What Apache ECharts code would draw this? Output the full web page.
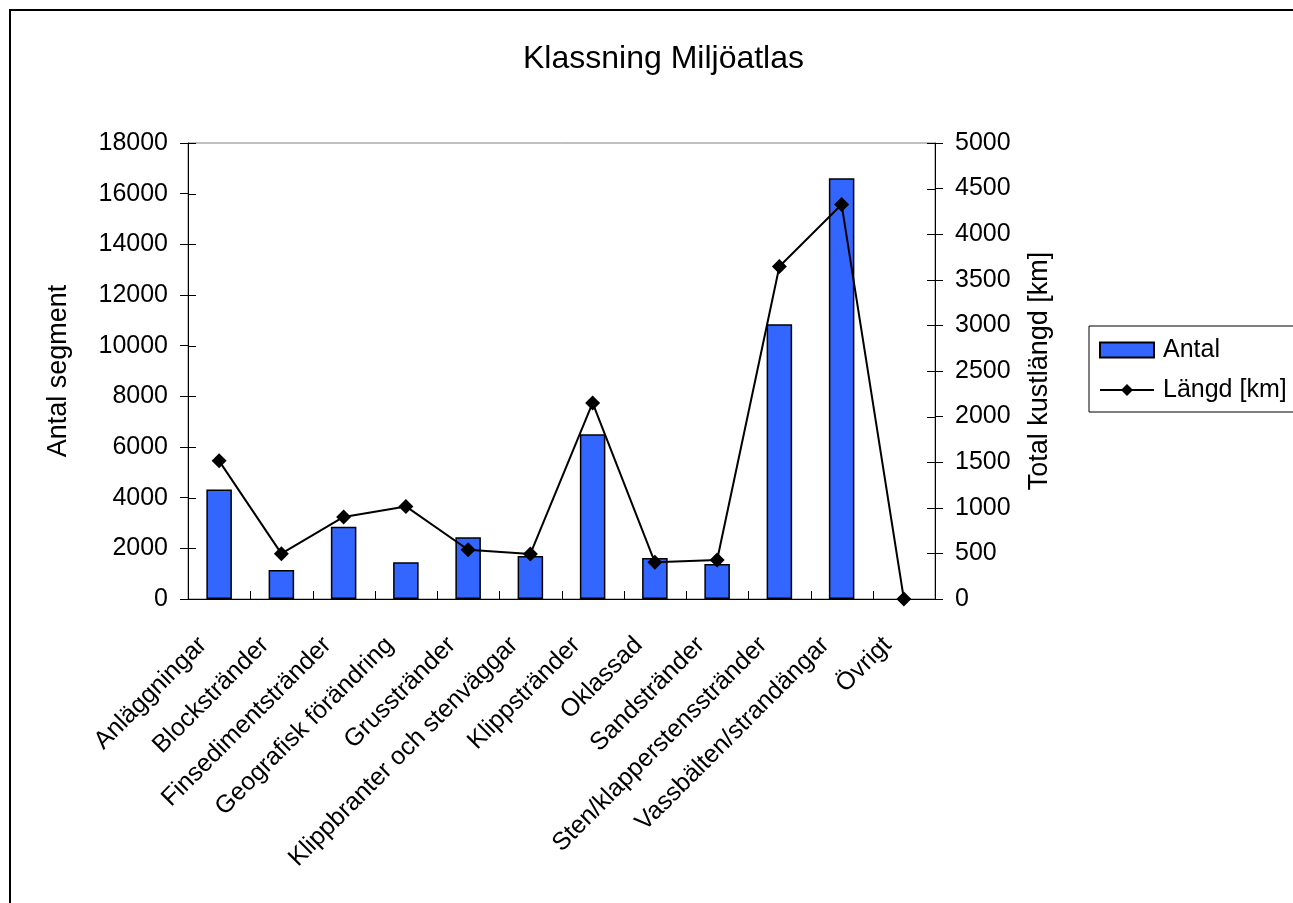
<!DOCTYPE html>
<html>
<head>
<meta charset="utf-8">
<title>Klassning Miljöatlas</title>
<script src="https://cdn.jsdelivr.net/npm/echarts@6/dist/echarts.min.js"></script>
<style>
  html, body { margin: 0; padding: 0; background: #ffffff; }
  #chart { width: 1293px; height: 903px; }
</style>
</head>
<body>
<div id="chart"></div>
<script>
// Shore classes
const categories = [
  'Anläggningar', 'Blockstränder', 'Finsedimentstränder', 'Geografisk förändring',
  'Grusstränder', 'Klippbranter och stenväggar', 'Klippstränder', 'Oklassad',
  'Sandstränder', 'Sten/klapperstensstränder', 'Vassbälten/strandängar', 'Övrigt'
];
// Number of segments per class (left axis)
const antal = [4320, 1140, 2850, 1450, 2440, 1700, 6500, 1620, 1380, 10850, 16610, 0];
// Total coast length in km per class (right axis)
const langd = [1515, 497, 900, 1015, 540, 494, 2150, 402, 427, 3645, 4325, 0];
// Tick values of the two value axes
const leftTicks = [0, 2000, 4000, 6000, 8000, 10000, 12000, 14000, 16000, 18000];
const rightTicks = [0, 500, 1000, 1500, 2000, 2500, 3000, 3500, 4000, 4500, 5000];

const FONT = 'Liberation Sans, Arial, Helvetica, sans-serif';
const txt = { color: '#000', fontFamily: FONT, fontSize: 25 };
const nameTxt = { color: '#000', fontFamily: FONT, fontSize: 27 };
const plain = (v) => String(v);
const TICK = 8;

const chart = echarts.init(document.getElementById('chart'), null, { renderer: 'canvas' });

// Inner half of the cross tick marks on the value axes
const innerYTicks = (side) => (params, api) => {
  const cs = params.coordSys;
  const y = Math.round(api.coord([0, api.value(1)])[1]) + 0.5;
  const x0 = side === 'left' ? cs.x : cs.x + cs.width;
  const dir = side === 'left' ? 1 : -1;
  return {
    type: 'line', silent: true,
    shape: { x1: x0, y1: y, x2: x0 + dir * TICK, y2: y },
    style: { stroke: '#000', lineWidth: 1 }
  };
};

// Inner half of the cross tick marks on the category axis (at category boundaries)
const innerXTicks = (params, api) => {
  const cs = params.coordSys;
  const half = api.size([1, 0])[0] / 2;
  const x = Math.round(api.coord([api.value(0), 0])[0] - half) + 0.5;
  const y0 = cs.y + cs.height;
  return {
    type: 'line', silent: true,
    shape: { x1: x, y1: y0, x2: x, y2: y0 - TICK },
    style: { stroke: '#000', lineWidth: 1 }
  };
};

// Zero-height bars are left undrawn
const barData = antal.map(v => v === 0 ? { value: v, itemStyle: { opacity: 0 } } : v);

chart.setOption({
  backgroundColor: '#ffffff',
  animation: false,
  title: {
    text: 'Klassning Miljöatlas',
    left: 518, top: 38,
    textStyle: { color: '#000', fontFamily: FONT, fontSize: 32, fontWeight: 'normal' }
  },
  graphic: [{
    type: 'rect', z: 0, silent: true,
    shape: { x: 10, y: 10, width: 1400, height: 1000 },
    style: { fill: 'none', stroke: '#000', lineWidth: 2 }
  }],
  legend: {
    orient: 'vertical',
    left: 1089, top: 326,
    padding: [10, 30, 8, 10],
    itemGap: 12,
    itemWidth: 54, itemHeight: 15,
    borderColor: '#000', borderWidth: 1,
    backgroundColor: '#fff',
    textStyle: Object.assign({ lineHeight: 28, padding: [0, 0, 0, 4] }, txt),
    data: [{ name: 'Antal', icon: 'rect' }, { name: 'Längd [km]' }]
  },
  grid: {
    left: 188, right: 358, top: 143, bottom: 304,
    show: true, borderColor: '#808080', borderWidth: 1, backgroundColor: 'transparent'
  },
  xAxis: {
    type: 'category', data: categories, position: 'bottom',
    axisLine: { lineStyle: { color: '#000', width: 1 } },
    axisTick: { length: TICK, interval: 0, lineStyle: { color: '#000' } },
    axisLabel: Object.assign({ rotate: 45, interval: 0, margin: 26, padding: [0, 23, 0, 0] }, txt),
    splitLine: { show: false }
  },
  yAxis: [{
    type: 'value', position: 'left', min: 0, max: 18000, interval: 2000,
    name: 'Antal segment', nameLocation: 'middle', nameGap: 116, nameRotate: 90,
    nameTextStyle: nameTxt,
    axisLine: { show: true, lineStyle: { color: '#000', width: 1 } },
    axisTick: { show: true, length: TICK, lineStyle: { color: '#000' } },
    axisLabel: Object.assign({ margin: 20, formatter: plain }, txt),
    splitLine: { show: false }
  }, {
    type: 'value', position: 'right', min: 0, max: 5000, interval: 500,
    name: 'Total kustlängd [km]', nameLocation: 'middle', nameGap: 91, nameRotate: 90,
    nameTextStyle: nameTxt,
    axisLine: { show: true, lineStyle: { color: '#000', width: 1 } },
    axisTick: { show: true, length: TICK, lineStyle: { color: '#000' } },
    axisLabel: Object.assign({ margin: 20, formatter: plain }, txt),
    splitLine: { show: false }
  }],
  series: [{
    name: 'Antal', type: 'bar', data: barData,
    yAxisIndex: 0,
    barWidth: '41%',
    itemStyle: { color: '#3366FF', borderColor: '#000', borderWidth: 1.5 },
    z: 2
  }, {
    name: 'Längd [km]', type: 'line', data: langd,
    yAxisIndex: 1,
    symbol: 'diamond', symbolSize: 15, clip: false,
    lineStyle: { color: '#000', width: 2 },
    itemStyle: { color: '#000' },
    z: 3
  }, {
    type: 'custom', silent: true, yAxisIndex: 0, z: 4,
    renderItem: innerYTicks('left'),
    data: leftTicks.map(v => [0, v])
  }, {
    type: 'custom', silent: true, yAxisIndex: 1, z: 4,
    renderItem: innerYTicks('right'),
    data: rightTicks.map(v => [0, v])
  }, {
    type: 'custom', silent: true, yAxisIndex: 0, z: 4,
    renderItem: innerXTicks,
    data: categories.map((c, i) => [i, 0])
  }]
});
</script>
</body>
</html>
